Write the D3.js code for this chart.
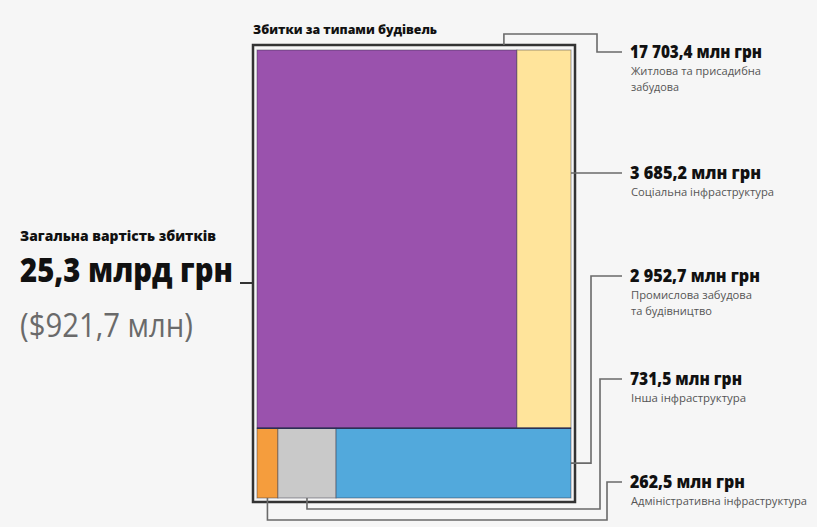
<!DOCTYPE html>
<html><head><meta charset="utf-8">
<script src="https://cdn.jsdelivr.net/npm/d3@7"></script>
<style>
html,body{margin:0;padding:0;background:#f6f6f6;}
svg{display:block;}
text{font-family:"Open Sans","Noto Sans",sans-serif;}
</style></head>
<body>
<svg id="chart" width="817" height="527"></svg>
<script>
// ---- data ----
const categories = ["Житлова та присадибна забудова", "Соціальна інфраструктура", "Промислова забудова та будівництво", "Інша інфраструктура", "Адміністративна інфраструктура"];
const values = [17703.4, 3685.2, 2952.7, 731.5, 262.5];
const valueLabels = ["17 703,4 млн грн", "3 685,2 млн грн", "2 952,7 млн грн", "731,5 млн грн", "262,5 млн грн"];
const subLabels = [["Житлова та присадибна", "забудова"], ["Соціальна інфраструктура"], ["Промислова забудова", "та будівництво"], ["Інша інфраструктура"], ["Адміністративна інфраструктура"]];
const rowOf = [0, 0, 1, 1, 1];
const bottomOrder = [4, 3, 2];
const colors = ["#9a52ad", "#ffe49b", "#52a9dc", "#c9c9c9", "#f59d3d"];
const title = "Збитки за типами будівель";
const totalTitle = "Загальна вартість збитків";
const totalValue = "25,3 млрд грн";
const totalUsd = "($921,7 млн)";

// ---- layout ----
const svg = d3.select("#chart");
svg.append("rect").attr("width", 817).attr("height", 527).attr("fill", "#f6f6f6");

const X0 = 257, Y0 = 50, W = 314, H = 448;
const treeData = {name: "root", children: [
  {name: "top", children: [0, 1].map(i => ({i, value: values[i]}))},
  {name: "bottom", children: bottomOrder.map(i => ({i, value: values[i]}))}
]};
const root = d3.hierarchy(treeData).sum(d => d.value || 0);
d3.treemap()
  .size([W, H])
  .tile((node, x0, y0, x1, y1) => {
    if (node.depth === 0) d3.treemapSlice(node, x0, y0, x1, y1);
    else d3.treemapDice(node, x0, y0, x1, y1);
  })(root);

const leaves = root.leaves();
const cell = {};
leaves.forEach(l => { cell[l.data.i] = {x0: X0 + l.x0, x1: X0 + l.x1, y0: Y0 + l.y0, y1: Y0 + l.y1}; });

const g = svg.append("g");
g.selectAll("rect.cell").data(leaves).join("rect")
  .attr("class", "cell")
  .attr("x", d => X0 + d.x0).attr("y", d => Y0 + d.y0)
  .attr("width", d => d.x1 - d.x0).attr("height", d => d.y1 - d.y0)
  .attr("fill", d => colors[d.data.i])
  .attr("stroke", "rgba(40,40,60,0.45)").attr("stroke-width", 1);

// row separator
const rowTop = root.children[1];
svg.append("line").attr("x1", X0).attr("x2", X0 + W)
  .attr("y1", Y0 + rowTop.y0).attr("y2", Y0 + rowTop.y0)
  .attr("stroke", "#2b2f55").attr("stroke-width", 1.5);

// outer frame
svg.append("rect").attr("x", X0 - 4).attr("y", Y0 - 5).attr("width", W + 8).attr("height", H + 9)
  .attr("fill", "none").attr("stroke", "#333").attr("stroke-width", 2.5);

// ---- leader lines ----
const lx = 622, tx = 630;
const labelY = [52, 173, 276, 379, 482];
const lineC = "#6a6a6a";
const leaders = [
  [[cell[0].x1 - 13, Y0 - 5], [cell[0].x1 - 13, 34], [597, 34], [597, labelY[0]], [lx, labelY[0]]],
  [[cell[1].x1, labelY[1]], [lx, labelY[1]]],
  [[cell[2].x1, (cell[2].y0 + cell[2].y1) / 2], [591, (cell[2].y0 + cell[2].y1) / 2], [591, labelY[2]], [lx, labelY[2]]],
  [[(cell[3].x0 + cell[3].x1) / 2, cell[3].y1], [(cell[3].x0 + cell[3].x1) / 2, 509], [600, 509], [600, labelY[3]], [lx, labelY[3]]],
  [[(cell[4].x0 + cell[4].x1) / 2, cell[4].y1], [(cell[4].x0 + cell[4].x1) / 2, 520], [607, 520], [607, labelY[4]], [lx, labelY[4]]]
];
svg.selectAll("path.leader").data(leaders).join("path")
  .attr("class", "leader")
  .attr("d", d3.line())
  .attr("fill", "none").attr("stroke", lineC).attr("stroke-width", 1.6);

// ---- labels ----
const valW = [132, 131, 130, 112, 115];
const subW = [[130, 48], [143], [121, 81], [115], [176]];
valueLabels.forEach((t, i) => {
  svg.append("text").attr("x", tx).attr("y", labelY[i] + 6)
    .attr("font-size", 17).attr("font-weight", 800).attr("fill", "#111")
    .attr("textLength", valW[i]).attr("lengthAdjust", "spacingAndGlyphs")
    .text(t);
  subLabels[i].forEach((s, j) => {
    svg.append("text").attr("x", tx + 1).attr("y", labelY[i] + 23 + j * 16)
      .attr("font-size", 11).attr("fill", "#555")
      .attr("textLength", subW[i][j]).attr("lengthAdjust", "spacingAndGlyphs")
      .text(s);
  });
});

// title
svg.append("text").attr("x", 253).attr("y", 34)
  .attr("font-size", 13).attr("font-weight", 800).attr("fill", "#111")
  .attr("textLength", 184).attr("lengthAdjust", "spacingAndGlyphs")
  .text(title);

// left block
svg.append("text").attr("x", 20).attr("y", 241)
  .attr("font-size", 14).attr("font-weight", 800).attr("fill", "#111")
  .attr("textLength", 196).attr("lengthAdjust", "spacingAndGlyphs")
  .text(totalTitle);
svg.append("text").attr("x", 20).attr("y", 282)
  .attr("font-size", 33).attr("font-weight", 800).attr("fill", "#111")
  .attr("textLength", 213).attr("lengthAdjust", "spacingAndGlyphs")
  .text(totalValue);
svg.append("text").attr("x", 20).attr("y", 337)
  .attr("font-size", 32).attr("font-weight", 400).attr("fill", "#6a6a6a")
  .attr("textLength", 173).attr("lengthAdjust", "spacingAndGlyphs")
  .text(totalUsd);
svg.append("line").attr("x1", 240).attr("x2", X0 - 4).attr("y1", 283).attr("y2", 283)
  .attr("stroke", "#333").attr("stroke-width", 2);
</script>
</body></html>
